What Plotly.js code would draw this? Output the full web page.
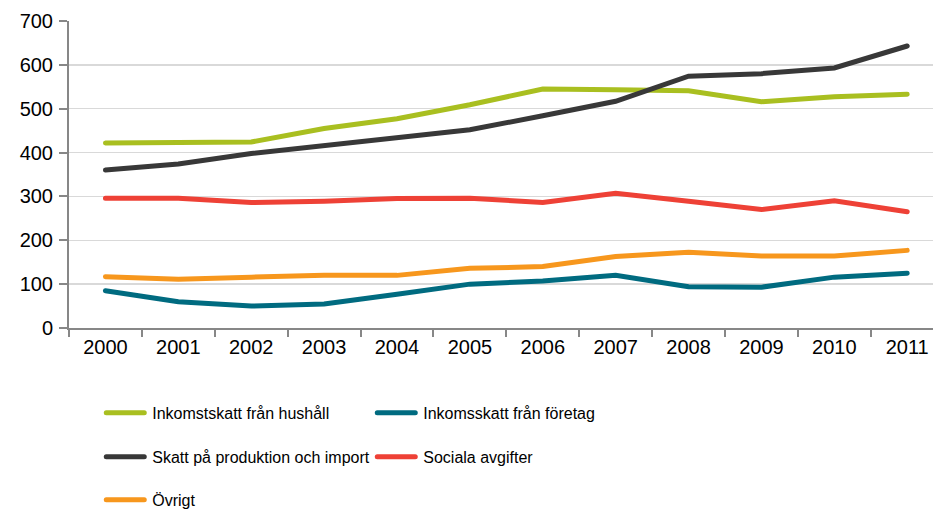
<!DOCTYPE html>
<html>
<head>
<meta charset="utf-8">
<script src="https://cdn.plot.ly/plotly-3.0.1.min.js"></script>
<style>html,body{margin:0;padding:0;background:#fff;}#chart{width:933px;height:513px;}</style>
</head>
<body>
<div id="chart"></div>
<script>
var years = ["2000","2001","2002","2003","2004","2005","2006","2007","2008","2009","2010","2011"];
var hushall = [422, 423, 424, 455, 477, 509, 545, 543, 541, 516, 527, 533];
var foretag = [85, 60, 50, 55, 77, 100, 107, 120, 94, 93, 116, 125];
var produktion = [360, 374, 398, 416, 432, 452, 484, 517, 574, 580, 593, 643];
var sociala = [296, 296, 286, 289, 295, 296, 286, 307, 289, 270, 290, 265];
var ovrigt = [117, 111, 116, 120, 120, 136, 140, 163, 173, 164, 164, 177];
var yTicks = [0, 100, 200, 300, 400, 500, 600, 700];

var names = ["Inkomstskatt från hushåll", "Inkomsskatt från företag", "Skatt på produktion och import", "Sociala avgifter", "Övrigt"];
var colors = ["#a9bf20", "#006b80", "#383838", "#ee4136", "#f7971d"];
var series = [hushall, foretag, produktion, sociala, ovrigt];
var legends = ["legend", "legend", "legend2", "legend2", "legend3"];

var traces = series.map(function(s, i){
  return {
    x: years, y: s, type: "scatter", mode: "lines", name: names[i],
    line: {color: colors[i], width: 5, shape: "linear"},
    legend: legends[i]
  };
});

var font = {family: "Liberation Sans, Arial, sans-serif", size: 16, color: "#000"};
function leg(y){
  return {orientation: "h", x: 0.0385, xanchor: "left", y: y, yanchor: "middle",
    font: font, entrywidth: 216, entrywidthmode: "pixels", itemwidth: 40, bgcolor: "rgba(0,0,0,0)",
    borderwidth: 0, traceorder: "normal", itemclick: false};
}

var layout = {
  width: 933, height: 513,
  margin: {l: 69, r: 0, t: 20.7, b: 185, autoexpand: false},
  paper_bgcolor: "#fff", plot_bgcolor: "#fff",
  font: {family: "Liberation Sans, Arial, sans-serif", size: 20, color: "#000"},
  xaxis: {
    type: "category", range: [-0.5, 11.354], tickson: "boundaries",
    showgrid: false, showline: true, linecolor: "#878787", linewidth: 2,
    ticks: "outside", ticklen: 7, tickwidth: 2, tickcolor: "#878787",
    tickfont: {family: "Liberation Sans, Arial, sans-serif", size: 20, color: "#000"},
    zeroline: false, fixedrange: true, automargin: false
  },
  yaxis: {
    range: [0, 700], tickvals: yTicks, ticktext: yTicks.map(String),
    showgrid: true, gridcolor: "#d9d9d9", gridwidth: 1.5,
    showline: true, linecolor: "#878787", linewidth: 2,
    ticks: "outside", ticklen: 8, tickwidth: 2, tickcolor: "#878787",
    tickfont: {family: "Liberation Sans, Arial, sans-serif", size: 20, color: "#000"},
    zeroline: false, fixedrange: true, ticklabelstandoff: 2, automargin: false
  },
  legend: leg(-0.2766),
  legend2: leg(-0.4198),
  legend3: leg(-0.5597),
  showlegend: true
};

Plotly.newPlot("chart", traces, layout, {staticPlot: true, displayModeBar: false}).then(function(gd){
  gd.querySelectorAll('.legendlines path').forEach(function(p){
    p.setAttribute('d', 'M4,0h38');
    p.style.strokeLinecap = 'round';
  });
  gd.querySelectorAll('.scatterlayer .js-line').forEach(function(p){
    p.style.strokeLinecap = 'round';
  });
});
</script>
</body>
</html>
